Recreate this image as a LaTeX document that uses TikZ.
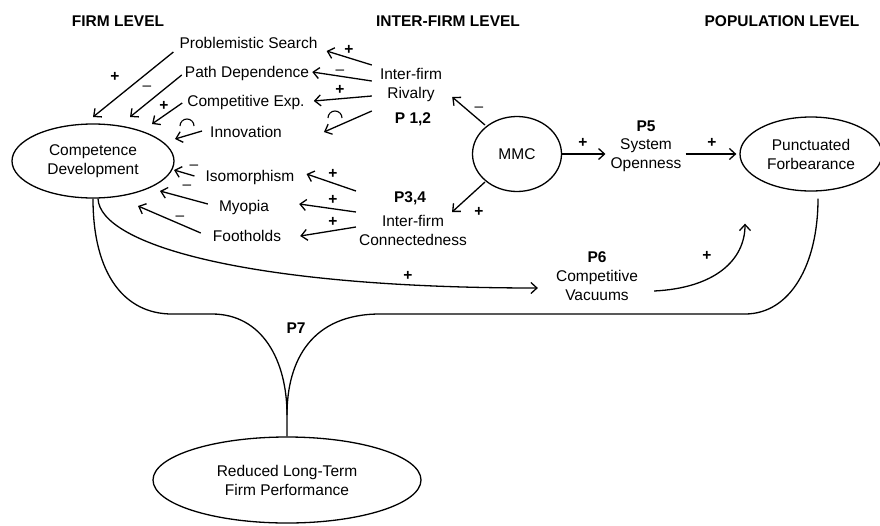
\documentclass[tikz,border=0pt]{standalone}
\usepackage{fontspec}
\setmainfont{Liberation Sans}
\usetikzlibrary{shapes.geometric,arrows.meta,calc}
\begin{document}
\begin{tikzpicture}[x=1pt,y=-1pt,
  every node/.style={font=\fontsize{15.5pt}{19pt}\selectfont, text=black},
  txt/.style={inner sep=0pt, align=center},
  hdr/.style={inner sep=0pt, font=\fontsize{15.5pt}{19pt}\selectfont\bfseries},
  bold/.style={inner sep=0pt, font=\fontsize{15.5pt}{19pt}\selectfont\bfseries},
  sign/.style={inner sep=0pt, text height=9pt, text depth=0pt, font=\fontsize{15.5pt}{19pt}\selectfont\bfseries},
  minus/.style={inner sep=0pt, text height=9pt, text depth=0pt},
  ell/.style={draw, ellipse, line width=1.3pt, inner sep=0pt, align=center},
  arr/.style={line width=1.3pt, -{Straight Barb[length=6pt,width=11pt,line width=1.3pt]}},
  ln/.style={line width=1.3pt},
  arcsym/.style={line width=1.1pt}
]
\useasboundingbox (0,0) rectangle (880,525);

% headers
\node[hdr] (h1) at (118,21) {FIRM LEVEL};
\node[hdr] (h2) at (448,21) {INTER-FIRM LEVEL};
\node[hdr] (h3) at (782,21) {POPULATION LEVEL};

% ellipses
\node[ell, minimum width=162pt, minimum height=74pt] (cd) at (93,161) {Competence\\Development};
\node[ell, minimum width=89pt, minimum height=75pt] (mmc) at (517,154) {MMC};
\node[ell, minimum width=142pt, minimum height=74pt] (pf) at (811,154) {Punctuated\\Forbearance};
\node[ell, minimum width=268pt, minimum height=86pt] (rp) at (287,480) {Reduced Long-Term\\Firm Performance};

% firm-level texts
\node[txt] (ps) at (248.5,43) {Problemistic Search};
\node[txt] (pd) at (247,73) {Path Dependence};
\node[txt] (ce) at (246,102) {Competitive Exp.};
\node[txt] (inn) at (246,132) {Innovation};
\node[txt] (iso) at (250,177) {Isomorphism};
\node[txt] (myo) at (244,207) {Myopia};
\node[txt] (foot) at (247,236) {Footholds};

% inter-firm texts
\node[txt] (ir) at (411,85) {Inter-firm\\Rivalry};
\node[bold] (p12) at (413,119) {P 1,2};
\node[bold] (p34) at (410,198) {P3,4};
\node[txt] (icn) at (413,230) {Inter-firm\\Connectedness};

% population texts
\node[bold] (p5) at (646,126) {P5};
\node[txt] (so) at (646,155) {System\\Openness};
\node[bold] (p6) at (597,257) {P6};
\node[txt] (cv) at (597,285) {Competitive\\Vacuums};
\node[bold] (p7) at (296,328) {P7};

% arrows into competence development
\draw[arr] ($(ps.west)+(-6,9)$) -- ($(cd.center)+(0,-44)$);
\draw[arr] ($(pd.west)+(-3,2)$) -- ($(cd.center)+(37,-44)$);
\draw[arr] ($(ce.west)+(-5,1)$) -- ($(cd.center)+(59,-37)$);
\draw[arr] ($(inn.west)+(-8,-1)$) -- ($(cd.center)+(82,-22)$);
\draw[arr] ($(iso.west)+(-11,-1)$) -- ($(cd.center)+(81,9)$);
\draw[arr] ($(myo.west)+(-11,-3)$) -- ($(cd.center)+(67,30)$);
\draw[arr] ($(foot.west)+(-12,-3)$) -- ($(cd.center)+(45,45)$);

% arrows from inter-firm rivalry
\draw[arr] ($(ir.west)+(-8,-20)$) -- ($(ps.east)+(9,8)$);
\draw[arr] ($(ir.west)+(-8,-4)$) -- ($(pd.east)+(3,-1)$);
\draw[arr] ($(ir.west)+(-8,11)$) -- ($(ce.east)+(9,-1)$);
\draw[arr] ($(ir.west)+(-8,26)$) -- ($(inn.east)+(42,0)$);

% arrows from inter-firm connectedness
\draw[arr] ($(icn.west)+(-3,-39)$) -- ($(iso.east)+(12,-3)$);
\draw[arr] ($(icn.west)+(-3,-18)$) -- ($(myo.east)+(30,-3)$);
\draw[arr] ($(icn.west)+(-3,-3)$) -- ($(foot.east)+(19,0)$);

% MMC arrows
\draw[arr] ($(mmc.center)+(-32,-29)$) -- ($(ir.east)+(10,12)$);
\draw[arr] ($(mmc.center)+(-32,28)$) -- ($(icn.east)+(-15,-18)$);
\draw[arr] (mmc.east) -- ($(so.west)+(-5,-1)$);
\draw[arr] ($(so.east)+(4,-1)$) -- ($(pf.west)+(-3,0)$);

% competence -> competitive vacuums -> punctuated forbearance
\draw[arr] ($(cd.south)+(5,0)$) .. controls (100,245) and (250,288) .. ($(cv.west)+(-18,3)$);
\draw[arr] ($(cv.east)+(16,6)$) .. controls (715,288) and (745,260) .. ($(pf.south)+(-66,32)$);

% P7 connectors
\draw[ln] (cd.south) .. controls (93,275) and (125,314) .. (172,314) -- (212,314)
  .. controls (262,314) and (287,360) .. (287,415) -- (rp.north);
\draw[ln] ($(pf.south)+(7,7)$) .. controls (818,265) and (790,314) .. (745,314) -- (380,314)
  .. controls (312,314) and (287,360) .. (287,415);

% signs
\node[sign] (s1) at (115,77) {+};
\node[minus] (s2) at (147,86) {–};
\node[sign] (s3) at (164,106) {+};
\node[sign] (s4) at (349,50) {+};
\node[minus] (s5) at (340,70) {–};
\node[sign] (s6) at (340,90) {+};
\node[minus] (s7) at (194,165) {–};
\node[minus] (s8) at (187,185) {–};
\node[minus] (s9) at (180,216) {–};
\node[sign] (s10) at (333,174) {+};
\node[sign] (s11) at (333,200) {+};
\node[sign] (s12) at (333,222) {+};
\node[minus] (s13) at (479,107) {–};
\node[sign] (s14) at (479,212) {+};
\node[sign] (s15) at (583,143) {+};
\node[sign] (s16) at (712,143) {+};
\node[sign] (s17) at (408,276) {+};
\node[sign] (s18) at (707,256) {+};

% curvilinear symbols
\draw[arcsym] (194,126) arc[start angle=0, end angle=180, radius=7pt];
\draw[arcsym] (342,118) arc[start angle=0, end angle=180, radius=7pt];
\end{tikzpicture}
\end{document}
